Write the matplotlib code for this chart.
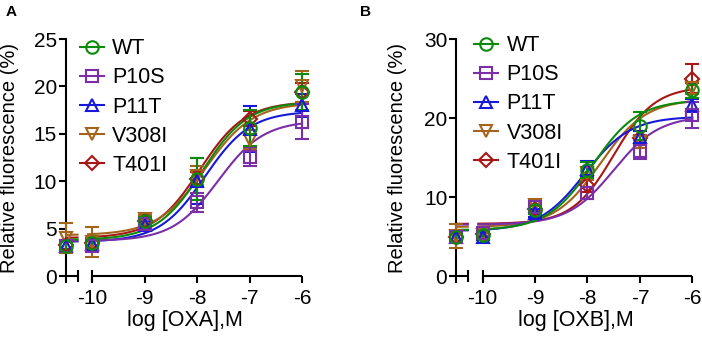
import numpy as np
import matplotlib
matplotlib.use("Agg")
import matplotlib.pyplot as plt
from matplotlib.transforms import blended_transform_factory

plt.rcParams['font.family'] = ['Liberation Sans', 'DejaVu Sans']
plt.rcParams['axes.unicode_minus'] = False

series = ["WT", "P10S", "P11T", "V308I", "T401I"]
log_conc = [-10.5, -10, -9, -8, -7, -6]
tick_vals = [-10, -9, -8, -7, -6]
tick_labels = ["-10", "-9", "-8", "-7", "-6"]

# Panel A (OXA): means and SEM
A_mean = {
    "WT":    [3.2, 3.5, 5.8, 10.2, 15.6, 19.4],
    "P10S":  [3.2, 3.2, 5.5, 7.8, 12.6, 16.3],
    "P11T":  [3.2, 3.4, 5.4, 10.0, 15.5, 18.0],
    "V308I": [4.0, 3.6, 6.0, 10.6, 14.4, 20.0],
    "T401I": [3.3, 3.5, 5.8, 10.2, 16.6, 19.4],
}
A_err = {
    "WT":    [0.5, 0.5, 0.4, 2.2, 1.9, 1.9],
    "P10S":  [0.5, 0.5, 0.4, 1.0, 1.0, 1.8],
    "P11T":  [0.5, 0.5, 0.4, 2.4, 2.4, 1.2],
    "V308I": [1.6, 1.6, 0.4, 1.0, 1.0, 1.6],
    "T401I": [0.5, 0.5, 0.4, 0.8, 0.8, 1.0],
}
# fitted curve parameters: bottom, top, logEC50, hill
A_fit = {
    "WT":    [3.8, 18.4, -7.9, 1.0],
    "P10S":  [3.7, 16.4, -7.6, 1.0],
    "P11T":  [3.6, 17.4, -7.85, 1.0],
    "V308I": [4.3, 18.3, -7.85, 0.95],
    "T401I": [4.0, 18.4, -7.95, 1.0],
}

# Panel B (OXB)
B_mean = {
    "WT":    [5.0, 5.2, 8.4, 13.4, 19.0, 23.5],
    "P10S":  [5.0, 5.4, 8.8, 10.5, 15.8, 20.4],
    "P11T":  [5.0, 5.0, 8.0, 13.6, 17.6, 21.6],
    "V308I": [5.1, 5.2, 9.0, 13.0, 17.0, 23.8],
    "T401I": [5.0, 5.3, 8.5, 11.5, 17.5, 25.0],
}
B_err = {
    "WT":    [0.6, 0.5, 0.5, 1.0, 1.8, 1.0],
    "P10S":  [0.6, 0.5, 0.7, 0.8, 1.0, 1.6],
    "P11T":  [0.6, 0.5, 0.5, 0.9, 0.8, 0.8],
    "V308I": [1.5, 0.5, 0.6, 0.8, 0.8, 0.8],
    "T401I": [0.6, 0.5, 0.5, 0.8, 0.8, 1.8],
}
B_fit = {
    "WT":    [5.8, 22.3, -7.9, 1.0],
    "P10S":  [6.5, 20.3, -7.5, 1.0],
    "P11T":  [5.7, 20.2, -8.05, 1.0],
    "V308I": [6.2, 22.4, -7.75, 1.0],
    "T401I": [6.6, 24.0, -7.5, 1.1],
}

colors = {"WT": "#0c8a0c", "P10S": "#7a2ea8", "P11T": "#1818d8",
          "V308I": "#a4641c", "T401I": "#a81616"}
markers = {"WT": "o", "P10S": "s", "P11T": "^", "V308I": "v", "T401I": "D"}
msize = {"WT": 9, "P10S": 8.5, "P11T": 9, "V308I": 9, "T401I": 7}

def logistic(x, p):
    b, t, ec, h = p
    return b + (t - b) / (1 + 10 ** ((ec - x) * h))

fig = plt.figure(figsize=(7.02, 3.37), dpi=100)

def panel(rect, mean, err, fit, ymax, yticks, xlabel, letter, letter_x, leg_anchor, ylab_x):
    ax = fig.add_axes(rect)
    xl = -10.5
    brk = -10.28
    ax.set_xlim(xl, -5.95)
    ax.set_ylim(0, ymax)
    for s in series[::-1]:
        c = colors[s]
        p = fit[s]
        x1 = np.linspace(xl, brk, 10)
        x2 = np.linspace(-10.08, -6.0, 200)
        ax.plot(x1, logistic(x1, p), color=c, lw=1.5, zorder=2)
        ax.plot(x2, logistic(x2, p), color=c, lw=1.5, zorder=2)
        ax.errorbar(log_conc, mean[s], yerr=err[s], fmt='none', ecolor=c,
                    elinewidth=1.5, capsize=5, capthick=1.5, zorder=3, clip_on=False)
        ax.plot(log_conc, mean[s], linestyle='none', marker=markers[s],
                markersize=msize[s], markerfacecolor='none', markeredgecolor=c,
                markeredgewidth=1.5, zorder=4, clip_on=False)
    handles = []
    for s in series:
        h, = ax.plot([], [], color=colors[s], lw=1.5, marker=markers[s],
                     markersize=msize[s], markerfacecolor='none',
                     markeredgecolor=colors[s], markeredgewidth=1.5, label=s)
        handles.append(h)
    ax.legend(handles=handles, loc='upper left', bbox_to_anchor=leg_anchor,
              frameon=False, fontsize=15.5, handlelength=1.1, handletextpad=0.4,
              labelspacing=0.38, borderpad=0.0, borderaxespad=0.0)
    for sp in ['top', 'right', 'bottom']:
        ax.spines[sp].set_visible(False)
    ax.spines['left'].set_linewidth(1.5)
    ax.spines['left'].set_bounds(0, ymax)
    ax.set_yticks(yticks)
    ax.set_yticklabels([str(v) for v in yticks])
    ax.set_xticks([xl] + tick_vals)
    ax.set_xticklabels([""] + tick_labels)
    ax.tick_params(axis='both', direction='out', length=5, width=1.5,
                   labelsize=15, pad=1.5)
    ax.tick_params(axis='x', pad=4)
    tr = blended_transform_factory(ax.transData, ax.transAxes)
    ax.plot([xl, brk], [0, 0], color='black', lw=1.5, transform=tr, clip_on=False, solid_capstyle='butt')
    ax.plot([-10, -6], [0, 0], color='black', lw=1.5, transform=tr, clip_on=False, solid_capstyle='butt')
    ax.plot([brk, -10], [0, 0], linestyle='none', marker='|', markersize=9,
            markeredgewidth=1.5, color='black', transform=tr, clip_on=False)
    ax.set_xlabel(xlabel, fontsize=15.5, labelpad=2)
    ax.set_ylabel("Relative fluorescence (%)", fontsize=14.5)
    ax.yaxis.set_label_coords(ylab_x, 0.5)
    fig.text(letter_x, 0.985, letter, fontsize=11, fontweight='bold', va='top', ha='left')
    return ax

panel([0.094, 0.181, 0.340, 0.703], A_mean, A_err, A_fit, 25, [0, 5, 10, 15, 20, 25],
      "log [OXA],M", "A", 0.008, (0.058, 1.004), -0.197)
panel([0.650, 0.181, 0.340, 0.703], B_mean, B_err, B_fit, 30, [0, 10, 20, 30],
      "log [OXB],M", "B", 0.513, (0.075, 1.017), -0.205)

fig.savefig("out.png", dpi=100)
